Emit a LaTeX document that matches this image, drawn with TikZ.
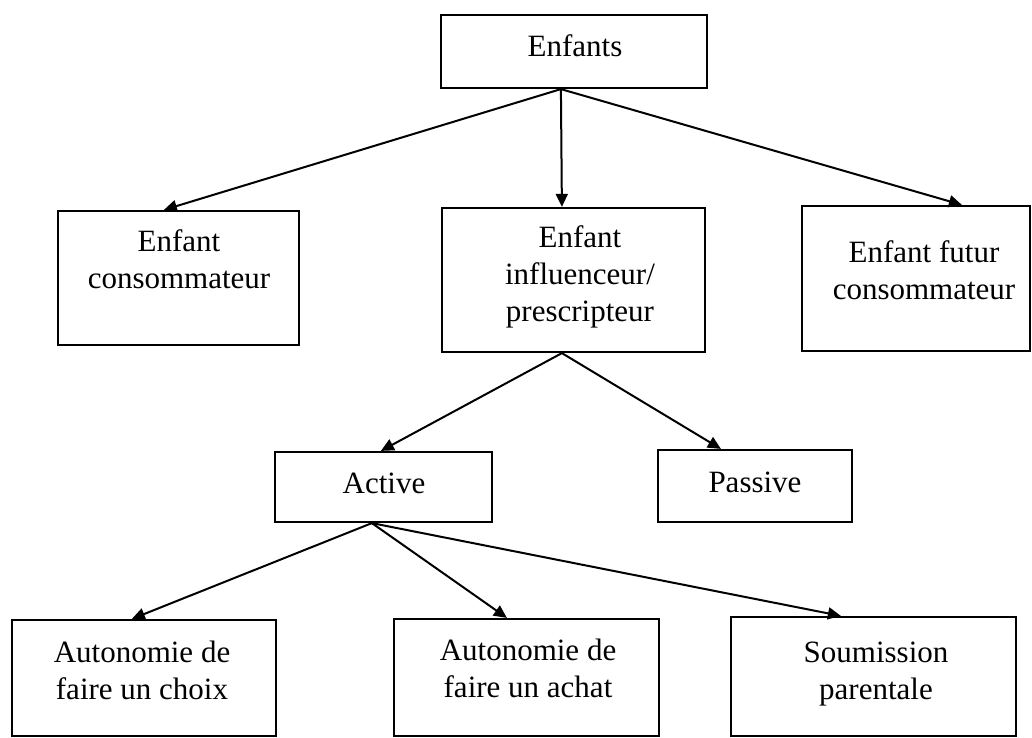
\documentclass[tikz,border=0pt]{standalone}
\usepackage{fontspec}
\setmainfont{Liberation Serif}
\usetikzlibrary{arrows.meta,calc}
\tikzset{
  box/.style={draw, line width=2.2pt, inner sep=0pt, rectangle},
  lbl/.style={anchor=base, align=center, inner sep=0pt, font=\fontsize{31}{37}\selectfont},
  arr/.style={line width=2pt, -{Triangle[length=13pt,width=12pt]}}
}
\begin{document}
\begin{tikzpicture}[x=1pt,y=-1pt]
\useasboundingbox (0,0) rectangle (1032,737);
% boxes
\node[box, minimum width=266pt, minimum height=73pt]  (enf) at (574,51.5) {};
\node[box, minimum width=241pt, minimum height=134pt] (cons) at (178.5,278) {};
\node[box, minimum width=263pt, minimum height=144pt] (infl) at (573.5,280) {};
\node[box, minimum width=228pt, minimum height=145pt] (fut) at (916,278.5) {};
\node[box, minimum width=217pt, minimum height=70pt]  (act) at (383.5,487) {};
\node[box, minimum width=194pt, minimum height=72pt]  (pas) at (755,486) {};
\node[box, minimum width=264pt, minimum height=116pt] (cho) at (144,678) {};
\node[box, minimum width=265pt, minimum height=117pt] (ach) at (526.5,677.5) {};
\node[box, minimum width=285pt, minimum height=119pt] (sou) at (873.5,676.5) {};
% labels (base anchor = baseline of the last line)
\node[lbl] (enfT) at (575,56) {Enfants};
\node[lbl] (consT) at (179,288) {Enfant\\consommateur};
\node[lbl] (inflT) at (580,321) {Enfant\\influenceur/\\prescripteur};
\node[lbl] (futT) at (924,299) {Enfant futur\\consommateur};
\node[lbl] (actT) at (384,493) {Active};
\node[lbl] (pasT) at (755,492) {Passive};
\node[lbl] (choT) at (142,699) {Autonomie de\\faire un choix};
\node[lbl] (achT) at (528,697) {Autonomie de\\faire un achat};
\node[lbl] (souT) at (876,699) {Soumission\\parentale};
% connectors
\draw[arr] ($(enf.south west)+(121,0)$) -- ($(cons.north west)+(107,0)$);
\draw[arr] ($(enf.south west)+(121,0)$) -- ($(infl.north west)+(121,0)$);
\draw[arr] ($(enf.south west)+(121,0)$) -- ($(fut.north west)+(161,0)$);
\draw[arr] ($(infl.south west)+(121,0)$) -- ($(act.north west)+(107,0)$);
\draw[arr] ($(infl.south west)+(121,0)$) -- ($(pas.north west)+(64,0)$);
\draw[arr] ($(act.south west)+(98,0)$) -- ($(cho.north west)+(121,0)$);
\draw[arr] ($(act.south west)+(98,0)$) -- ($(ach.north west)+(114,0)$);
\draw[arr] ($(act.south west)+(98,0)$) -- ($(sou.north west)+(111,0)$);
\end{tikzpicture}
\end{document}
